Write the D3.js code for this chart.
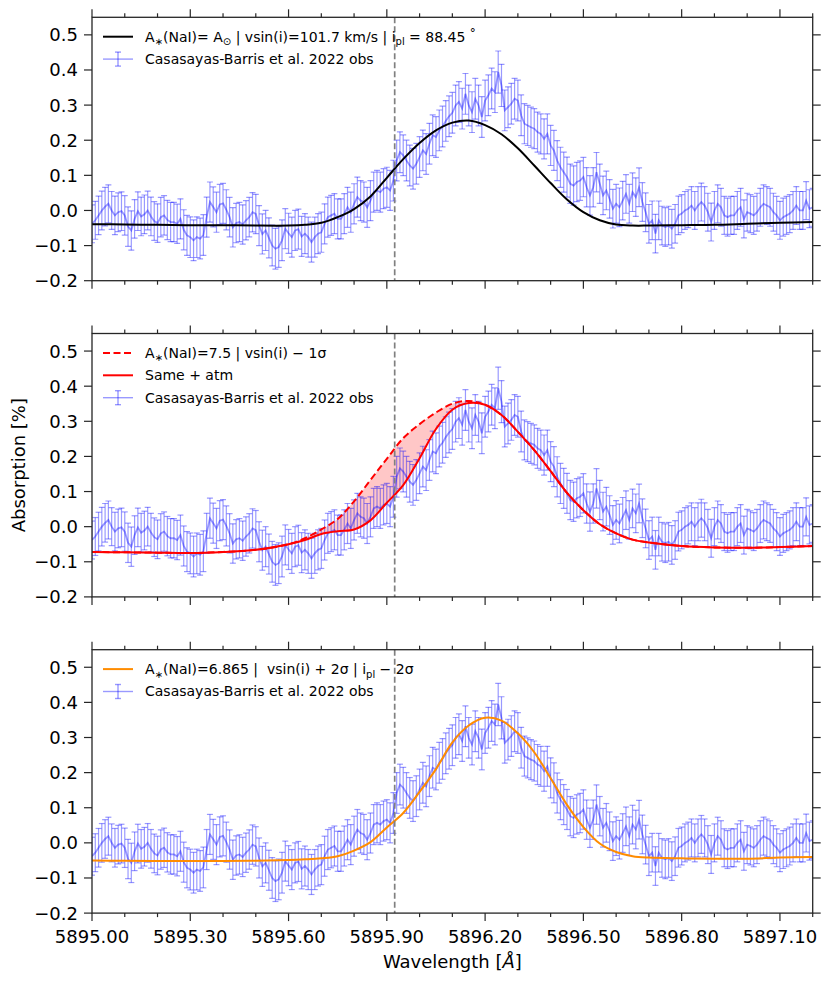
<!DOCTYPE html>
<html>
<head>
<meta charset="utf-8">
<script src="https://cdn.jsdelivr.net/npm/d3@7"></script>
<style>
  body { margin: 0; background: #fff; }
  svg { font-family: "DejaVu Sans", sans-serif; }
  text { white-space: pre; }
</style>
</head>
<body>
<div id="chart"></div>
<script>
// observed transmission spectrum (Casasayas-Barris et al. 2022), 0.01 A sampling
const obsStart = 5895.00;
const obsStep = 0.01;
const obsFlux = [
  -0.038, -0.028, -0.014, 0.000, 0.011, 0.019, 0.000, -0.014, -0.005, -0.002,
  -0.014, -0.046, -0.057, -0.024, -0.002, -0.017, -0.011, 0.000, -0.017, -0.030,
  -0.036, -0.019, -0.014, -0.027, -0.033, -0.033, -0.038, -0.024, -0.055, -0.071,
  -0.076, -0.085, -0.076, -0.080, -0.070, -0.019, 0.024, 0.010, -0.005, 0.017,
  0.020, 0.002, -0.019, -0.048, -0.036, -0.033, -0.040, -0.028, -0.019, -0.005,
  -0.010, -0.043, -0.067, -0.057, -0.078, -0.100, -0.109, -0.104, -0.085, -0.052,
  -0.065, -0.076, -0.057, -0.053, -0.074, -0.066, -0.076, -0.090, -0.076, -0.066,
  -0.062, -0.038, -0.019, -0.014, -0.009, -0.024, -0.024, -0.009, 0.009, -0.005,
  0.019, 0.038, 0.028, 0.024, 0.009, 0.028, 0.052, 0.057, 0.052, 0.062,
  0.066, 0.057, 0.085, 0.142, 0.166, 0.157, 0.142, 0.128, 0.119, 0.133,
  0.152, 0.171, 0.161, 0.190, 0.214, 0.209, 0.228, 0.239, 0.255, 0.268,
  0.278, 0.299, 0.309, 0.290, 0.332, 0.299, 0.280, 0.318, 0.299, 0.266,
  0.313, 0.328, 0.347, 0.337, 0.394, 0.356, 0.285, 0.294, 0.304, 0.318,
  0.313, 0.271, 0.247, 0.242, 0.237, 0.233, 0.223, 0.218, 0.204, 0.218,
  0.185, 0.171, 0.142, 0.123, 0.109, 0.095, 0.076, 0.071, 0.081, 0.085,
  0.095, 0.066, 0.043, 0.066, 0.109, 0.076, 0.043, 0.057, 0.033, 0.005,
  0.019, 0.009, 0.028, 0.047, 0.019, 0.052, 0.038, 0.066, 0.024, -0.005,
  -0.038, -0.028, -0.066, -0.028, -0.043, -0.047, -0.043, -0.052, -0.038, -0.014,
  -0.009, 0.000, 0.005, 0.014, 0.000, 0.014, 0.024, 0.014, -0.005, -0.033,
  0.000, 0.019, 0.009, -0.014, -0.019, -0.014, -0.014, 0.000, 0.009, -0.024,
  -0.005, -0.009, -0.014, -0.005, 0.009, 0.019, 0.014, 0.009, -0.005, -0.014,
  -0.028, -0.019, -0.014, -0.009, 0.000, 0.014, 0.000, 0.000, 0.028, 0.005,
  0.009, -0.005
];
const obsErr = [
  0.054, 0.054, 0.055, 0.055, 0.055, 0.054, 0.054, 0.055, 0.055, 0.055,
  0.056, 0.056, 0.056, 0.055, 0.055, 0.055, 0.055, 0.055, 0.055, 0.055,
  0.055, 0.056, 0.056, 0.056, 0.056, 0.056, 0.056, 0.057, 0.057, 0.057,
  0.058, 0.058, 0.058, 0.058, 0.058, 0.057, 0.057, 0.057, 0.057, 0.057,
  0.057, 0.057, 0.056, 0.056, 0.056, 0.056, 0.056, 0.056, 0.056, 0.056,
  0.056, 0.057, 0.057, 0.057, 0.057, 0.058, 0.058, 0.058, 0.058, 0.057,
  0.057, 0.057, 0.057, 0.057, 0.057, 0.057, 0.057, 0.057, 0.057, 0.057,
  0.057, 0.057, 0.057, 0.057, 0.057, 0.057, 0.057, 0.057, 0.057, 0.057,
  0.057, 0.057, 0.057, 0.057, 0.057, 0.057, 0.057, 0.057, 0.057, 0.057,
  0.057, 0.057, 0.058, 0.058, 0.058, 0.058, 0.058, 0.058, 0.058, 0.058,
  0.058, 0.058, 0.058, 0.058, 0.058, 0.058, 0.058, 0.058, 0.058, 0.058,
  0.058, 0.058, 0.058, 0.058, 0.058, 0.058, 0.058, 0.058, 0.058, 0.058,
  0.058, 0.058, 0.058, 0.058, 0.060, 0.060, 0.058, 0.058, 0.058, 0.058,
  0.058, 0.058, 0.057, 0.057, 0.057, 0.057, 0.057, 0.057, 0.057, 0.057,
  0.057, 0.057, 0.057, 0.057, 0.057, 0.057, 0.056, 0.056, 0.056, 0.056,
  0.056, 0.056, 0.056, 0.056, 0.056, 0.056, 0.055, 0.055, 0.055, 0.055,
  0.055, 0.055, 0.055, 0.055, 0.055, 0.055, 0.055, 0.055, 0.055, 0.055,
  0.055, 0.055, 0.055, 0.055, 0.055, 0.055, 0.055, 0.055, 0.055, 0.055,
  0.054, 0.054, 0.054, 0.054, 0.054, 0.054, 0.054, 0.054, 0.054, 0.054,
  0.054, 0.054, 0.054, 0.054, 0.054, 0.054, 0.054, 0.054, 0.054, 0.054,
  0.054, 0.054, 0.054, 0.054, 0.054, 0.054, 0.054, 0.054, 0.054, 0.054,
  0.054, 0.054, 0.054, 0.054, 0.054, 0.054, 0.054, 0.054, 0.054, 0.054,
  0.054, 0.054
];

// model spectra, sampled on a common wavelength grid
const modelWl = [
  5895.00, 5895.10, 5895.20, 5895.30, 5895.40, 5895.50, 5895.60, 5895.65, 5895.70, 5895.75,
  5895.80, 5895.85, 5895.90, 5895.95, 5896.00, 5896.05, 5896.10, 5896.15, 5896.20, 5896.25,
  5896.30, 5896.35, 5896.40, 5896.45, 5896.50, 5896.55, 5896.60, 5896.65, 5896.70, 5896.80,
  5896.90, 5897.00, 5897.10, 5897.20
];
const modelSolar = [
  -0.039, -0.040, -0.041, -0.042, -0.042, -0.043, -0.043, -0.041, -0.035, -0.019,
  0.004, 0.040, 0.093, 0.146, 0.192, 0.228, 0.250, 0.256, 0.243, 0.217,
  0.177, 0.128, 0.078, 0.031, -0.005, -0.028, -0.040, -0.043, -0.043, -0.042,
  -0.041, -0.038, -0.035, -0.033
];
const model75 = [
  -0.072, -0.073, -0.074, -0.075, -0.072, -0.066, -0.050, -0.033, -0.008, 0.022,
  0.072, 0.133, 0.193, 0.252, 0.292, 0.325, 0.350, 0.358, 0.347, 0.318,
  0.270, 0.218, 0.158, 0.096, 0.047, 0.007, -0.019, -0.037, -0.045, -0.055,
  -0.059, -0.060, -0.058, -0.055
];
const model75atm = [
  -0.072, -0.073, -0.074, -0.075, -0.072, -0.066, -0.050, -0.038, -0.021, -0.013,
  -0.008, 0.018, 0.068, 0.118, 0.195, 0.278, 0.333, 0.352, 0.347, 0.318,
  0.270, 0.218, 0.158, 0.096, 0.047, 0.007, -0.019, -0.037, -0.045, -0.055,
  -0.059, -0.060, -0.058, -0.055
];
const model6865 = [
  -0.050, -0.051, -0.052, -0.052, -0.052, -0.051, -0.049, -0.047, -0.044, -0.038,
  -0.022, 0.002, 0.044, 0.085, 0.145, 0.210, 0.286, 0.334, 0.356, 0.348,
  0.312, 0.258, 0.184, 0.108, 0.045, -0.002, -0.026, -0.038, -0.042, -0.044,
  -0.045, -0.045, -0.042, -0.040
];

const naD1 = 5895.924;
const xMajor = [5895.0, 5895.3, 5895.6, 5895.9, 5896.2, 5896.5, 5896.8, 5897.1];
const xMinor = [5895.1, 5895.2, 5895.4, 5895.5, 5895.7, 5895.8, 5896.0, 5896.1,
  5896.3, 5896.4, 5896.6, 5896.7, 5896.9, 5897.0, 5897.2];
const yTicks = [-0.2, -0.1, 0.0, 0.1, 0.2, 0.3, 0.4, 0.5];

const W = 831, H = 981;
const left = 92, right = 812.7;
const panelH = 263.4;
const panelTops = [17.3, 333.5, 649.7];
const ink = "#262626";

const obs = obsFlux.map((v, i) => ({ wl: obsStart + i * obsStep, v: v, e: obsErr[i] }));
const model = arr => modelWl.map((w, i) => ({ wl: w, v: arr[i] }));

const x = d3.scaleLinear().domain([5895.0, 5897.2]).range([left, right]);
const y = d3.scaleLinear().domain([-0.2, 0.55]).range([panelH, 0]);

const svg = d3.select('#chart').append('svg')
  .attr('width', W).attr('height', H);

svg.append('defs').append('clipPath').attr('id', 'clip')
  .append('rect').attr('x', left).attr('y', 0)
  .attr('width', right - left).attr('height', panelH);

const obsLabel = [['Casasayas-Barris et al. 2022 obs']];

const panels = [
  {
    lines: [{ data: modelSolar, color: 'black' }],
    legend: [
      { kind: 'line', color: 'black',
        label: [['A'], ['∗', 'sub'], ['(NaI)= A'], ['⊙', 'sub'], [' | vsin(i)=101.7 km/s | i'], ['pl', 'sub'], [' = 88.45 '], ['°', 'sup']] },
      { kind: 'obs', label: obsLabel }
    ]
  },
  {
    fill: [model75atm, model75],
    lines: [
      { data: model75, color: 'red', dash: '7,3.5' },
      { data: model75atm, color: 'red' }
    ],
    legend: [
      { kind: 'line', color: 'red', dash: '7,3.5',
        label: [['A'], ['∗', 'sub'], ['(NaI)=7.5 | vsin(i) − 1σ']] },
      { kind: 'line', color: 'red', label: [['Same + atm']] },
      { kind: 'obs', label: obsLabel }
    ]
  },
  {
    lines: [{ data: model6865, color: 'darkorange' }],
    legend: [
      { kind: 'line', color: 'darkorange',
        label: [['A'], ['∗', 'sub'], ['(NaI)=6.865 |  vsin(i) + 2σ | i'], ['pl', 'sub'], [' − 2σ']] },
      { kind: 'obs', label: obsLabel }
    ]
  }
];

const smooth = d3.curveCatmullRom.alpha(0.5);
const line = d3.line().x(d => x(d.wl)).y(d => y(d.v)).curve(smooth);

panels.forEach((p, k) => {
  const g = svg.append('g').attr('transform', `translate(0,${panelTops[k]})`);
  const plot = g.append('g').attr('clip-path', 'url(#clip)');

  // shaded difference between model and model + atmosphere
  if (p.fill) {
    const a = model(p.fill[0]), b = model(p.fill[1]);
    plot.append('path')
      .datum(a.map((d, i) => ({ wl: d.wl, lo: d.v, hi: b[i].v })))
      .attr('fill', 'red').attr('fill-opacity', 0.22)
      .attr('d', d3.area().x(d => x(d.wl)).y0(d => y(d.lo)).y1(d => y(d.hi)).curve(smooth));
  }

  // observations with error bars
  const eb = plot.append('g').attr('stroke', 'blue').attr('stroke-opacity', 0.4);
  eb.selectAll('line.bar').data(obs).join('line').attr('class', 'bar')
    .attr('x1', d => x(d.wl)).attr('x2', d => x(d.wl))
    .attr('y1', d => y(d.v - d.e)).attr('y2', d => y(d.v + d.e))
    .attr('stroke-width', 1.2);
  ['lo', 'hi'].forEach(s => {
    eb.selectAll('line.cap' + s).data(obs).join('line').attr('class', 'cap' + s)
      .attr('x1', d => x(d.wl) - 3).attr('x2', d => x(d.wl) + 3)
      .attr('y1', d => y(s === 'lo' ? d.v - d.e : d.v + d.e))
      .attr('y2', d => y(s === 'lo' ? d.v - d.e : d.v + d.e))
      .attr('stroke-width', 1.2);
  });
  eb.append('path').datum(obs)
    .attr('fill', 'none').attr('stroke-width', 1.8)
    .attr('d', d3.line().x(d => x(d.wl)).y(d => y(d.v)));

  // models
  p.lines.forEach(l => {
    plot.append('path').datum(model(l.data))
      .attr('fill', 'none').attr('stroke', l.color).attr('stroke-width', 2)
      .attr('stroke-dasharray', l.dash || null)
      .attr('d', line);
  });

  // Na D1 rest wavelength
  g.append('line')
    .attr('x1', x(naD1)).attr('x2', x(naD1)).attr('y1', 0).attr('y2', panelH)
    .attr('stroke', 'gray').attr('stroke-width', 1.7).attr('stroke-dasharray', '6,3');

  // frame
  g.append('rect').attr('x', left).attr('y', 0)
    .attr('width', right - left).attr('height', panelH)
    .attr('fill', 'none').attr('stroke', ink).attr('stroke-width', 1.3);

  // ticks: outward on all four sides
  const tk = g.append('g').attr('stroke', ink).attr('stroke-width', 1.2);
  [[xMajor, 8], [xMinor, 4]].forEach(([vals, len]) => {
    tk.selectAll(null).data(vals).join('line')
      .attr('x1', d => x(d)).attr('x2', d => x(d)).attr('y1', 0).attr('y2', -len);
    tk.selectAll(null).data(vals).join('line')
      .attr('x1', d => x(d)).attr('x2', d => x(d)).attr('y1', panelH).attr('y2', panelH + len);
  });
  tk.selectAll(null).data(yTicks).join('line')
    .attr('x1', left).attr('x2', left - 8).attr('y1', d => y(d)).attr('y2', d => y(d));
  tk.selectAll(null).data(yTicks).join('line')
    .attr('x1', right).attr('x2', right + 8).attr('y1', d => y(d)).attr('y2', d => y(d));

  g.selectAll('text.ytick').data(yTicks).join('text').attr('class', 'ytick')
    .attr('x', 78).attr('y', d => y(d) + 6.5)
    .attr('text-anchor', 'end').attr('font-size', 18).attr('fill', 'black')
    .text(d3.format('.1f'));

  if (k === 2) {
    g.selectAll('text.xtick').data(xMajor).join('text').attr('class', 'xtick')
      .attr('x', d => x(d)).attr('y', panelH + 29.5)
      .attr('text-anchor', 'middle').attr('font-size', 18).attr('fill', 'black')
      .text(d3.format('.2f'));
  }

  // legend (no frame)
  p.legend.forEach((item, r) => {
    const ly = 19.4 + r * 22.4;
    if (item.kind === 'line') {
      g.append('line').attr('x1', 103).attr('x2', 133).attr('y1', ly).attr('y2', ly)
        .attr('stroke', item.color).attr('stroke-width', 2)
        .attr('stroke-dasharray', item.dash || null);
    } else {
      const hg = g.append('g').attr('stroke', 'blue').attr('stroke-opacity', 0.4)
        .attr('stroke-width', 1.4);
      hg.append('line').attr('x1', 103).attr('x2', 133).attr('y1', ly).attr('y2', ly);
      hg.append('line').attr('x1', 118).attr('x2', 118).attr('y1', ly - 7).attr('y2', ly + 7);
      hg.append('line').attr('x1', 115).attr('x2', 121).attr('y1', ly - 7).attr('y2', ly - 7);
      hg.append('line').attr('x1', 115).attr('x2', 121).attr('y1', ly + 7).attr('y2', ly + 7);
    }
    const t = g.append('text').attr('x', 145).attr('y', ly + 5)
      .attr('font-size', 14).attr('fill', 'black');
    let shift = 0;
    item.label.forEach(([s, mode]) => {
      const want = mode === 'sub' ? 3.5 : mode === 'sup' ? -5 : 0;
      t.append('tspan').attr('dy', want - shift)
        .attr('font-size', mode === 'sup' ? 12 : mode ? 10 : 14).text(s);
      shift = want;
    });
  });
});

// axis labels
svg.append('text')
  .attr('transform', `translate(25,${panelTops[1] + panelH / 2}) rotate(-90)`)
  .attr('text-anchor', 'middle').attr('font-size', 18).attr('fill', 'black')
  .text('Absorption [%]');

const xl = svg.append('text')
  .attr('x', (left + right) / 2).attr('y', 968)
  .attr('text-anchor', 'middle').attr('font-size', 18).attr('fill', 'black');
xl.append('tspan').text('Wavelength [');
xl.append('tspan').attr('font-style', 'italic').text('Å');
xl.append('tspan').text(']');
</script>
</body>
</html>
